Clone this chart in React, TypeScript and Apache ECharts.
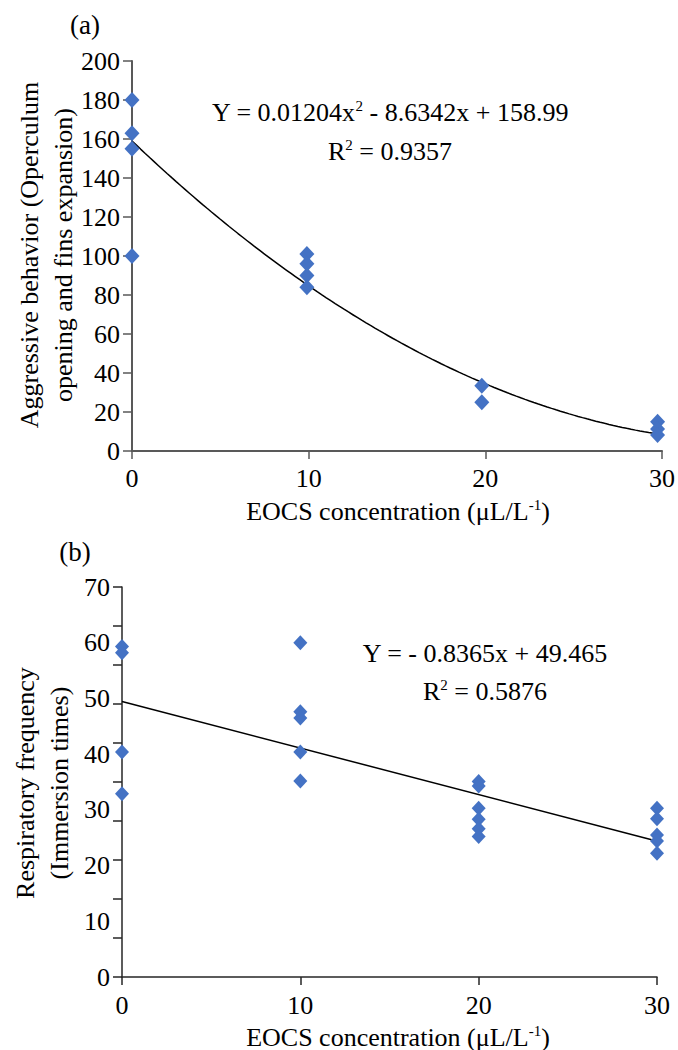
import React, { useEffect, useRef } from "react";
import * as echarts from "echarts";

const FONT = "'Liberation Serif', 'Times New Roman', serif";

// Panel (a): aggressive behaviour vs EOCS concentration
const aggressiveX = [0, 0, 0, 0, 9.9, 9.9, 9.9, 9.9, 19.8, 19.8, 29.75, 29.75, 29.75];
const aggressiveY = [180, 163, 155, 100, 101, 96, 90, 84, 33.5, 25, 15, 11.3, 8.2];
const quadFit = [0.1204, -8.6342, 158.99]; // a, b, c of the drawn trend curve
const eqA = "Y = 0.01204x{sup|2} - 8.6342x + 158.99";
const r2A = "R{sup|2} = 0.9357";

// Panel (b): respiratory frequency vs EOCS concentration
const respX = [0, 0, 0, 0, 10, 10, 10, 10, 10, 20, 20, 20, 20, 20, 20, 30, 30, 30, 30, 30];
const respY = [59.3, 58.2, 40.4, 32.9, 60, 47.6, 46.5, 40.4, 35.2, 35.1, 34.3, 30.3, 28.3, 26.6, 25.2, 30.3, 28.4, 25.5, 24.4, 22.2];
const linFit = [-0.8365, 49.465];
const eqB = "Y = - 0.8365x + 49.465";
const r2B = "R{sup|2} = 0.5876";

const xTitle = "EOCS concentration (μL/L{sup|-1})";
const yTitleA = "Aggressive behavior (Operculum\nopening and fins expansion)";
const yTitleB = "Respiratory frequency\n(Immersion times)";

const BLUE = "#4472C4";

function App() {
  const ref = useRef<HTMLDivElement>(null);
  useEffect(() => {
    if (!ref.current) return;
    const chart = echarts.init(ref.current, null, { renderer: "svg" });

    const ptsA = aggressiveX.map((x, i) => [x, aggressiveY[i]]);
    const ptsB = respX.map((x, i) => [x, respY[i]]);
    const minA = Math.min(...aggressiveX);
    const maxA = Math.max(...aggressiveX);
    const curveA: number[][] = [];
    for (let x = minA; x <= maxA + 1e-9; x += 0.25) {
      curveA.push([x, quadFit[0] * x * x + quadFit[1] * x + quadFit[2]]);
    }
    const minB = Math.min(...respX);
    const maxB = Math.max(...respX) - 0.3;
    const lineB = [minB, maxB].map((x) => [x, linFit[0] * x + linFit[1]]);

    const sup = { fontSize: 15, lineHeight: 15, verticalAlign: "top", fontFamily: FONT, fill: "#000" };
    const txt = (text: string, x: number, y: number, size = 26, extra: any = {}) => ({
      type: "text",
      x,
      y,
      ...extra,
      style: {
        text,
        fontFamily: FONT,
        fontSize: size,
        lineHeight: extra.lineHeight || 28,
        fill: "#000",
        align: "center",
        verticalAlign: "middle",
        textAlign: "center",
        textVerticalAlign: "middle",
        rich: { sup },
      },
    });

    const axisA = "#595959";
    const axisB = "#262626";
    const tickFont = 26;

    chart.setOption({
      animation: false,
      backgroundColor: "#fff",
      grid: [
        { left: 132, top: 61, width: 534, height: 390 },
        { left: 122, top: 587, width: 535, height: 390 },
      ],
      xAxis: [
        {
          gridIndex: 0, type: "value", min: 0, max: 30, interval: 10,
          axisLine: { onZero: false, lineStyle: { color: axisA, width: 2 } },
          axisTick: { length: 8, lineStyle: { color: axisA, width: 1.5 } },
          axisLabel: { fontSize: tickFont, fontFamily: FONT, color: "#000", margin: 14 },
          splitLine: { show: false },
        },
        {
          gridIndex: 1, type: "value", min: 0, max: 30, interval: 10,
          axisLine: { onZero: false, lineStyle: { color: axisB, width: 1.5 } },
          axisTick: { length: 8, lineStyle: { color: axisB, width: 1.5 } },
          axisLabel: { fontSize: tickFont, fontFamily: FONT, color: "#000", margin: 15 },
          splitLine: { show: false },
        },
      ],
      yAxis: [
        {
          gridIndex: 0, type: "value", min: 0, max: 200, interval: 20,
          axisLine: { show: true, onZero: false, lineStyle: { color: axisA, width: 2 } },
          axisTick: { show: true, length: 9, lineStyle: { color: axisA, width: 1.5 } },
          axisLabel: { fontSize: tickFont, fontFamily: FONT, color: "#000", margin: 12 },
          splitLine: { show: false },
        },
        {
          gridIndex: 1, type: "value", min: 0, max: 70, interval: 10,
          axisLine: { show: false },
          axisTick: { show: false },
          axisLabel: { fontSize: tickFont, fontFamily: FONT, color: "#000", margin: 12 },
          splitLine: { show: false },
        },
        {
          gridIndex: 1, type: "value", min: 0, max: 70, interval: 7, position: "left",
          axisLine: { show: true, onZero: false, lineStyle: { color: axisB, width: 1.5 } },
          axisTick: { show: true, length: 9, lineStyle: { color: axisB, width: 1.5 } },
          axisLabel: { show: false },
          splitLine: { show: false },
        },
      ],
      series: [
        {
          type: "line", xAxisIndex: 0, yAxisIndex: 0, data: curveA, showSymbol: false,
          lineStyle: { color: "#000", width: 1.5 }, z: 2, silent: true,
        },
        {
          type: "scatter", xAxisIndex: 0, yAxisIndex: 0, data: ptsA,
          symbol: "diamond", symbolSize: [15, 16], itemStyle: { color: BLUE, opacity: 1 }, z: 3,
        },
        {
          type: "line", xAxisIndex: 1, yAxisIndex: 1, data: lineB, showSymbol: false,
          lineStyle: { color: "#000", width: 1.5 }, z: 2, silent: true,
        },
        {
          type: "scatter", xAxisIndex: 1, yAxisIndex: 1, data: ptsB,
          symbol: "diamond", symbolSize: [14, 15], itemStyle: { color: BLUE, opacity: 1 }, z: 3,
        },
      ],
      graphic: [
        txt("(a)", 85, 25, 27),
        txt("(b)", 75, 552, 27),
        txt(eqA, 390, 112),
        txt(r2A, 390, 151),
        txt(eqB, 485, 653),
        txt(r2B, 485, 691),
        txt(xTitle, 398, 511),
        txt(xTitle, 398, 1037),
        txt(yTitleA, 46, 255, 26, { rotation: Math.PI / 2, lineHeight: 34 }),
        txt(yTitleB, 42, 783, 26, { rotation: Math.PI / 2, lineHeight: 34 }),
      ],
    });
    return () => chart.dispose();
  }, []);
  return (
    <div
      ref={ref}
      style={{ position: "fixed", left: 0, top: 0, width: 678, height: 1050, background: "#fff" }}
    />
  );
}

export default App;
